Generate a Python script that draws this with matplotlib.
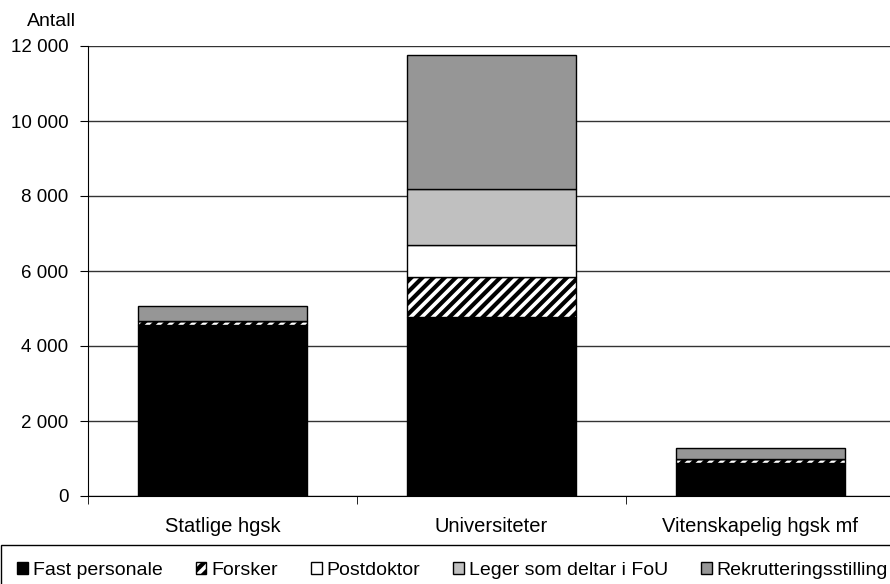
import matplotlib.pyplot as plt
import matplotlib.ticker as mticker

plt.rcParams['font.family'] = ['Liberation Sans', 'DejaVu Sans']
plt.rcParams['hatch.linewidth'] = 3

kategorier = ['Statlige hgsk', 'Universiteter', 'Vitenskapelig hgsk mf']
fast_personale = [4560, 4780, 870]
forsker = [110, 1050, 110]
postdoktor = [10, 860, 15]
leger = [0, 1490, 0]
rekruttering = [400, 3580, 275]

serier = [
    ('Fast personale', fast_personale, 'black', None),
    ('Forsker', forsker, 'white', '///'),
    ('Postdoktor', postdoktor, 'white', None),
    ('Leger som deltar i FoU', leger, '#c0c0c0', None),
    ('Rekrutteringsstilling', rekruttering, '#969696', None),
]

fig = plt.figure(figsize=(8.9, 5.84), dpi=100)
ax = fig.add_axes([88 / 890, 88 / 584, 807 / 890, 450 / 584])

x = range(len(kategorier))
bunn = [0] * len(kategorier)
for navn, verdier, farge, monster in serier:
    ax.bar(x, verdier, width=0.625, bottom=bunn, color=farge, hatch=monster,
           edgecolor='black', linewidth=1, label=navn, zorder=3)
    bunn = [b + v for b, v in zip(bunn, verdier)]

ax.set_xlim(-0.5, 2.5)
ax.set_ylim(0, 12000)
ax.set_yticks(range(0, 12001, 2000))
ax.yaxis.set_major_formatter(mticker.FuncFormatter(lambda v, p: f'{int(v):,}'.replace(',', ' ')))
ax.set_xticks(list(x))
ax.set_xticklabels(kategorier)
ax.set_xticks([-0.5, 0.5, 1.5, 2.5], minor=True)
ax.tick_params(axis='x', which='major', length=0, pad=15, labelsize=14.5)
ax.tick_params(axis='x', which='minor', length=6, color='black')
ax.tick_params(axis='y', length=6, pad=8, labelsize=13.5, color='black')
ax.grid(axis='y', color='#333333', linewidth=1, zorder=0)
for s in ['top', 'right']:
    ax.spines[s].set_visible(False)
ax.spines['left'].set_color('black')
ax.spines['bottom'].set_color('black')
ax.text(-0.045, 1.035, 'Antall', transform=ax.transAxes, ha='center', va='bottom', fontsize=14)

leg = fig.legend(loc='upper left', bbox_to_anchor=(0.001, 1 - 545 / 584), ncol=5, fontsize=14,
                 frameon=True, fancybox=False, edgecolor='black', handlelength=0.55,
                 handleheight=0.55, handletextpad=0.25, columnspacing=1.7,
                 borderpad=0.85, borderaxespad=0, framealpha=1)
leg.get_frame().set_linewidth(1)

fig.savefig('out.png', dpi=100)
